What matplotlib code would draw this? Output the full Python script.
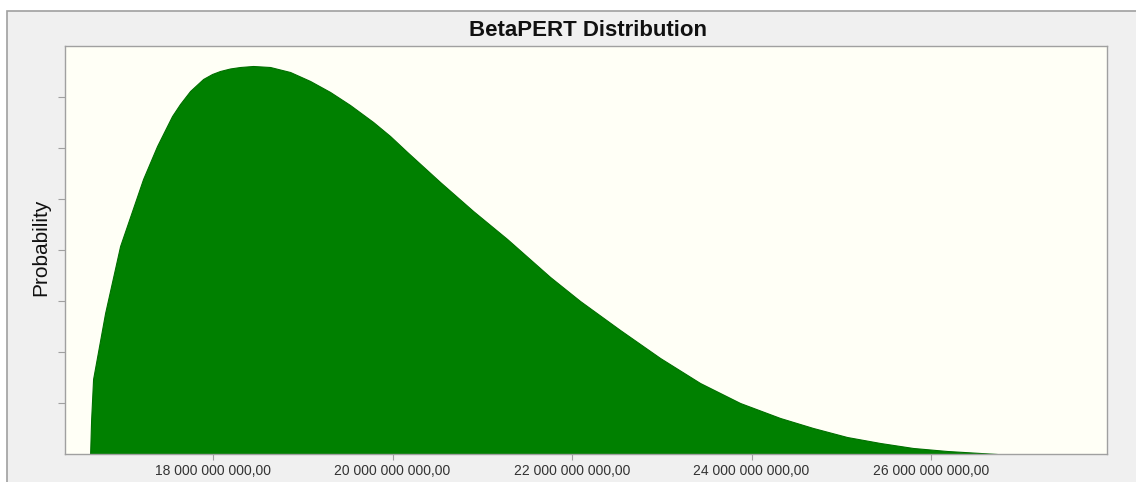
import matplotlib
matplotlib.use("Agg")
import matplotlib.pyplot as plt
from matplotlib.patches import Rectangle
from matplotlib.ticker import FuncFormatter

# values (x in billions, y in axis-tick units)
x_bn = [16.630, 16.641, 16.663, 16.797, 16.964, 17.220, 17.376, 17.465, 17.543, 17.632,
        17.744, 17.889, 17.989, 18.078, 18.189, 18.301, 18.446, 18.635, 18.858, 19.081,
        19.304, 19.526, 19.783, 19.972, 20.162, 20.529, 20.897, 21.276, 21.755, 22.089,
        22.535, 22.981, 23.426, 23.872, 24.318, 24.685, 25.064, 25.432, 25.799, 26.178,
        26.735]
prob = [0.000, 0.667, 1.471, 2.765, 4.078, 5.392, 6.039, 6.353, 6.627, 6.863,
        7.118, 7.353, 7.451, 7.510, 7.559, 7.588, 7.608, 7.588, 7.490, 7.314,
        7.098, 6.843, 6.510, 6.235, 5.922, 5.333, 4.765, 4.216, 3.471, 3.000,
        2.431, 1.882, 1.392, 1.000, 0.706, 0.510, 0.333, 0.216, 0.118, 0.059,
        0.000]
x_ticks_bn = [18, 20, 22, 24, 26]
y_ticks = [1, 2, 3, 4, 5, 6, 7]
title = "BetaPERT Distribution"
ylabel = "Probability"

x_vals = [v * 1e9 for v in x_bn]
x_ticks = [v * 1e9 for v in x_ticks_bn]

plt.rcParams['font.family'] = ['Liberation Sans', 'DejaVu Sans']

fig = plt.figure(figsize=(11.36, 4.82), dpi=100)
fig.patch.set_facecolor('white')
W, H = 1136, 482
panel = Rectangle((7 / W, -0.01), 1.0, 1 - 11 / H + 0.01, transform=fig.transFigure,
                  facecolor='#f0f0f0', edgecolor='#a0a0a0', linewidth=1.2, zorder=-10)
fig.patches.append(panel)

ax = fig.add_axes([65 / W, 1 - 454 / H, (1107 - 65) / W, (454 - 46) / H])
ax.set_zorder(5)
ax.set_facecolor('#fffff6')
ax.fill_between(x_vals, prob, 0, color='#008000', linewidth=0.8, edgecolor='#007000')

ax.set_xlim(16.35e9, 27.96e9)
ax.set_ylim(0, 8)
ax.set_xticks(x_ticks)
ax.set_yticks(y_ticks)
ax.set_yticklabels([])

def fmt(v, pos):
    s = f"{v:,.2f}"
    return s.replace(",", " ").replace(".", ",")

ax.xaxis.set_major_formatter(FuncFormatter(fmt))
ax.tick_params(axis='x', length=4, color='#a0a0a0', labelsize=10, labelcolor='#333333', pad=3)
ax.tick_params(axis='y', length=5, color='#a0a0a0')
for s in ax.spines.values():
    s.set_color('#a0a0a0')
    s.set_linewidth(1.0)

fig.text(588 / W, 1 - 30 / H, title, ha='center', va='center', fontsize=16,
         fontweight='bold', color='#111111')
fig.text(41 / W, 1 - 247 / H, ylabel, ha='center', va='center', rotation=90,
         fontsize=15, color='#111111')

fig.savefig('out.png', dpi=100, facecolor=fig.get_facecolor())
